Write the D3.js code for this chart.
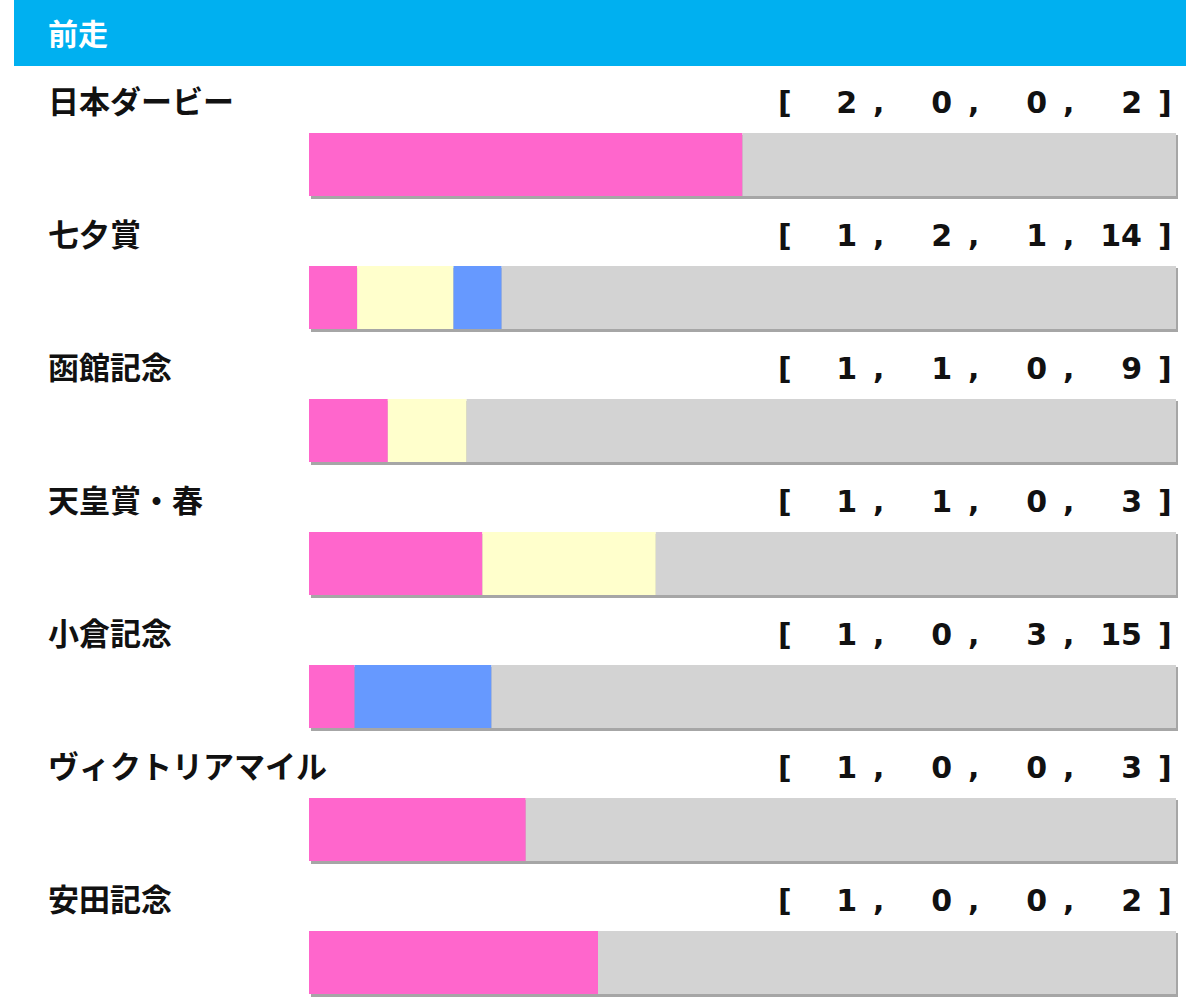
<!DOCTYPE html>
<html><head><meta charset="utf-8">
<script src="https://cdn.jsdelivr.net/npm/d3@7"></script>
<style>body{margin:0;background:#fff}</style>
</head><body>
<script>
var races = ["日本ダービー", "七夕賞", "函館記念", "天皇賞・春", "小倉記念", "ヴィクトリアマイル", "安田記念"];
var first = [2, 1, 1, 1, 1, 1, 1];
var second = [0, 2, 1, 1, 0, 0, 0];
var third = [0, 1, 0, 0, 3, 0, 0];
var other = [2, 14, 9, 3, 15, 3, 2];
var colors = ["#FF66CC", "#FFFFCC", "#6699FF", "#D3D3D3"];

var w = 1200, h = 1000;
var rowH = 133;
var font = "'Noto Sans CJK JP', sans-serif";
var svg = d3.select("body").append("svg").attr("width", w).attr("height", h);

svg.append("rect").attr("x", 14).attr("y", 0).attr("width", 1172).attr("height", 66).attr("fill", "#00B0F0");
svg.append("text").text("前走").attr("x", 48).attr("y", 45)
    .attr("font-family", font).attr("font-weight", "bold").attr("font-size", 30).attr("fill", "#fff");

var x = d3.scaleLinear().domain([0, 1]).range([309, 1176]);

var rows = svg.selectAll("g.row").data(races).enter().append("g")
    .attr("transform", function(d, i){ return "translate(0," + (i * rowH) + ")"; });

rows.append("text").text(function(d){ return d; })
    .attr("x", 48).attr("y", 113)
    .attr("font-family", font).attr("font-weight", "bold").attr("font-size", 31).attr("fill", "#111");

// bracket text
var numX = [857, 952, 1047, 1142];
rows.each(function(d, i){
    var g = d3.select(this);
    var vals = [first[i], second[i], third[i], other[i]];
    var tf = "'DejaVu Sans', sans-serif";
    g.append("text").text("[").attr("x", 778).attr("y", 113).attr("font-family", tf).attr("font-weight", "bold").attr("font-size", 30).attr("fill", "#111");
    g.append("text").text("]").attr("x", 1158).attr("y", 113).attr("font-family", tf).attr("font-weight", "bold").attr("font-size", 30).attr("fill", "#111");
    vals.forEach(function(v, j){
        g.append("text").text(v).attr("x", numX[j]).attr("y", 113).attr("text-anchor", "end")
            .attr("font-family", tf).attr("font-weight", "bold").attr("font-size", 30).attr("fill", "#111");
        if (j < 3) g.append("text").text(",").attr("x", numX[j] + 16).attr("y", 113)
            .attr("font-family", tf).attr("font-weight", "bold").attr("font-size", 30).attr("fill", "#111");
    });
    var total = d3.sum(vals);
    var cum = 0;
    // shadow
    g.append("rect").attr("x", 311).attr("y", 135).attr("width", 867).attr("height", 64).attr("fill", "#A6A6A6");
    vals.forEach(function(v, j){
        var x0 = x(cum / total); cum += v;
        var x1 = x(cum / total);
        if (x1 > x0) g.append("rect").attr("x", x0).attr("y", 133).attr("width", x1 - x0).attr("height", 63).attr("fill", colors[j]);
    });
});
</script>
</body></html>
